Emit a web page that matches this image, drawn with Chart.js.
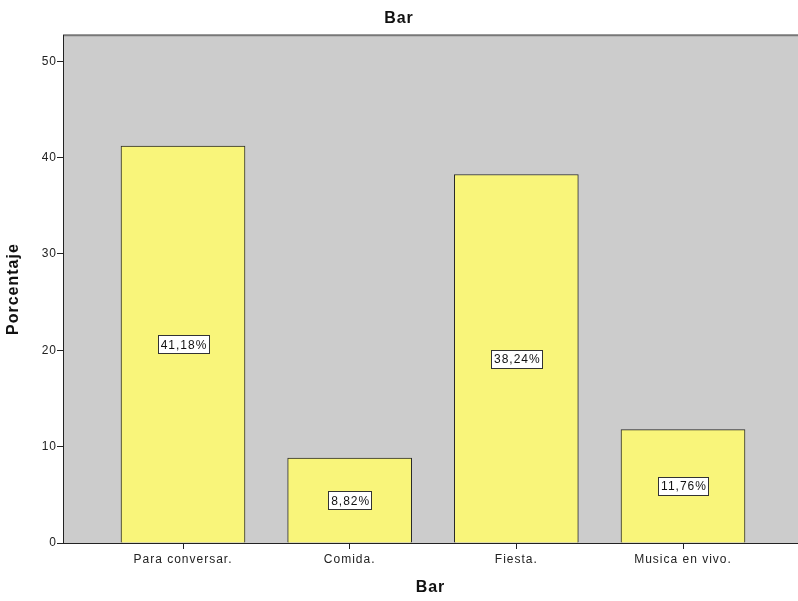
<!DOCTYPE html>
<html>
<head>
<meta charset="utf-8">
<script src="https://cdn.jsdelivr.net/npm/chart.js@4.4.0/dist/chart.umd.min.js"></script>
<style>
  html, body { margin: 0; padding: 0; background: #fff; }
  #wrap { width: 798px; height: 601px; }
</style>
</head>
<body>
<div id="wrap"><canvas id="chart"></canvas></div>
<script>
const categories = ['Para conversar.', 'Comida.', 'Fiesta.', 'Musica en vivo.'];
const percents = [41.18, 8.82, 38.24, 11.76];
const yTicks = [0, 10, 20, 30, 40, 50];

const fontFamily = '"Liberation Sans", Arial, sans-serif';

// slightly looser text everywhere
const textSpacing = {
    id: 'textSpacing',
    beforeLayout(chart) { chart.ctx.letterSpacing = '1px'; },
    beforeDraw(chart) { chart.ctx.letterSpacing = '1px'; }
};

// grey plot background plus the darker frame line along the top
const plotBackground = {
    id: 'plotBackground',
    beforeDraw(chart) {
        const { ctx, chartArea: a } = chart;
        ctx.save();
        ctx.fillStyle = '#cccccc';
        ctx.fillRect(a.left, a.top, a.right - a.left, a.bottom - a.top);
        ctx.strokeStyle = '#777777';
        ctx.lineWidth = 2;
        ctx.beginPath();
        ctx.moveTo(a.left, a.top);
        ctx.lineTo(a.right, a.top);
        ctx.stroke();
        ctx.restore();
    }
};

// boxed percentage label in the middle of each bar
const barLabels = {
    id: 'barLabels',
    afterDatasetsDraw(chart) {
        const { ctx } = chart;
        const meta = chart.getDatasetMeta(0);
        ctx.save();
        ctx.font = '12px ' + fontFamily;
        ctx.textAlign = 'center';
        ctx.textBaseline = 'middle';
        meta.data.forEach((bar, i) => {
            const text = percents[i].toFixed(2).replace('.', ',') + '%';
            const cy = (bar.y + bar.base) / 2;
            const w = Math.round(ctx.measureText(text).width + 4);
            const h = 18;
            const x0 = Math.round(bar.x - w / 2) + 0.5;
            const y0 = Math.round(cy - h / 2) + 0.5;
            ctx.fillStyle = '#ffffff';
            ctx.fillRect(x0, y0, w, h);
            ctx.strokeStyle = '#333333';
            ctx.lineWidth = 1;
            ctx.strokeRect(x0, y0, w, h);
            ctx.fillStyle = '#111111';
            ctx.fillText(text, bar.x + 1, cy + 1);
        });
        ctx.restore();
    }
};

new Chart(document.getElementById('chart'), {
    type: 'bar',
    data: {
        datasets: [{
            data: percents.map((v, i) => ({ x: i, y: v })),
            backgroundColor: '#f9f57a',
            borderColor: '#2a2a2a',
            borderWidth: 1,
            barThickness: 124
        }]
    },
    plugins: [textSpacing, plotBackground, barLabels],
    options: {
        responsive: true,
        maintainAspectRatio: false,
        animation: false,
        layout: { padding: 0 },
        plugins: {
            legend: { display: false },
            tooltip: { enabled: false },
            title: {
                display: true,
                text: 'Bar',
                color: '#111111',
                font: { family: fontFamily, size: 16, weight: 'bold' },
                padding: { top: 9, bottom: 7 }
            }
        },
        scales: {
            x: {
                type: 'linear',
                offset: false,
                min: -0.72,
                max: 3.69,
                afterBuildTicks(scale) {
                    scale.ticks = categories.map((c, i) => ({ value: i }));
                },
                afterFit(scale) { scale.height = 58; },
                ticks: {
                    color: '#222222',
                    font: { family: fontFamily, size: 12 },
                    padding: 3,
                    maxRotation: 0,
                    autoSkip: false,
                    callback: (v) => categories[v]
                },
                grid: { display: true, offset: false, drawOnChartArea: false, drawTicks: true, tickLength: 6, color: '#222222' },
                border: { display: true, color: '#222222', width: 1 },
                title: {
                    display: true,
                    text: 'Bar',
                    color: '#111111',
                    font: { family: fontFamily, size: 16, weight: 'bold' },
                    padding: { top: 10 }
                }
            },
            y: {
                min: 0,
                max: 52.7,
                afterBuildTicks(scale) {
                    scale.ticks = yTicks.map(v => ({ value: v }));
                },
                afterFit(scale) { scale.width = 63; },
                ticks: {
                    color: '#222222',
                    font: { family: fontFamily, size: 12 },
                    padding: 0
                },
                grid: { display: true, drawOnChartArea: false, drawTicks: true, tickLength: 6, color: '#222222' },
                border: { display: true, color: '#222222', width: 1 },
                title: {
                    display: true,
                    text: 'Porcentaje',
                    color: '#111111',
                    font: { family: fontFamily, size: 16, weight: 'bold' },
                    padding: { top: 4, bottom: 10 }
                }
            }
        }
    }
});
</script>
</body>
</html>
